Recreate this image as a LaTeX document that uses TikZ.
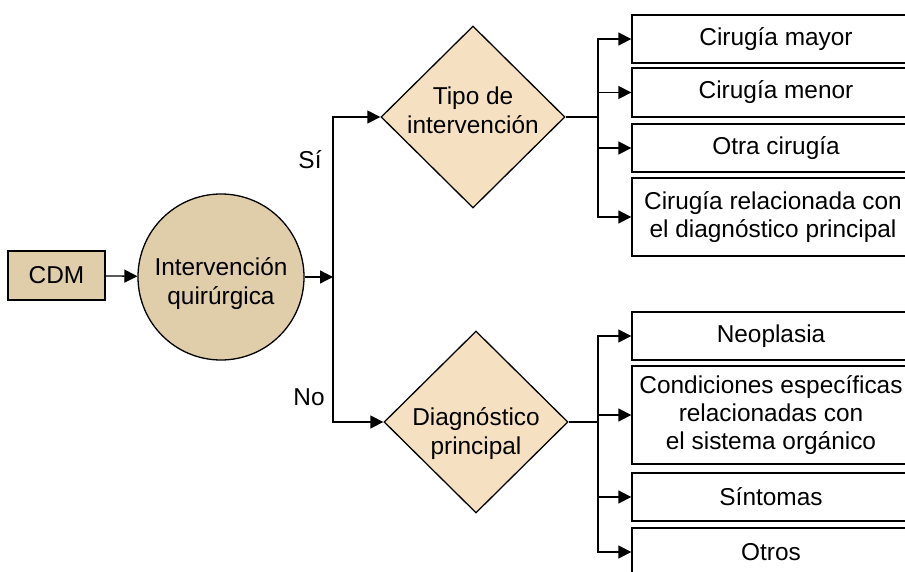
\documentclass[tikz,border=0pt]{standalone}
\usepackage{fontspec}
\setmainfont{Liberation Sans}
\usetikzlibrary{shapes.geometric,arrows.meta}
\definecolor{cdmtan}{HTML}{E0CDAA}
\definecolor{diamtan}{HTML}{F5E1C2}
\begin{document}
\begin{tikzpicture}[x=1pt, y=-1pt, line width=1.3pt, font=\fontsize{24.4}{28}\selectfont, >={Triangle[length=13pt,width=13pt]}]
    \tikzstyle{box} = [draw, minimum height=48pt, align=center, inner sep=0pt];
    \tikzstyle{decision} = [draw, diamond, fill=diamtan, minimum width=184pt, minimum height=182pt, inner sep=0pt];
    \tikzstyle{inside} = [align=center, font=\fontsize{24.4}{29}\selectfont];
    \useasboundingbox (0,0) rectangle (905,572);
    \clip (0,0) rectangle (905,572);

    \node[draw, fill=cdmtan, minimum width=97pt, minimum height=49pt] (CDM) at (56.5,275.5) {CDM};
    \node[draw, circle, fill=cdmtan, minimum size=166pt, inner sep=0pt] (quir) at (221,277) {};
    \node[inside] (quirtext) at (221,284) {Intervención\\quirúrgica};
    \coordinate (split) at (333,277);
    \node[decision] (tipo) at (473,117) {};
    \node[inside] (tipotext) at (473,110) {Tipo de\\intervención};
    \node[decision] (diag) at (476,422) {};
    \node[inside] (diagtext) at (476,433.5) {Diagnóstico\\principal};
    \node (si) at (310,160) {Sí};
    \node (no) at (309,397) {No};

    % tipo de intervencion
    \node[box, minimum width=288pt] (mayor) at (776,39) {Cirugía mayor};
    \node[box, minimum width=288pt, minimum height=49pt] (menor) at (776,92.5) {Cirugía menor};
    \node[box, minimum width=288pt] (otra) at (776,148) {Otra cirugía};
    \node[box, minimum width=282pt, minimum height=78pt] (rel) at (773,217) {Cirugía relacionada con\\el diagnóstico principal};
    % diagnostico principal
    \node[box, minimum width=278pt] (neo) at (771,336) {Neoplasia};
    \node[box, minimum width=278pt, minimum height=98pt] (cond) at (771,415) {Condiciones específicas\\relacionadas con\\el sistema orgánico};
    \node[box, minimum width=278pt] (sint) at (771,497) {Síntomas};
    \node[box, minimum width=278pt, minimum height=48pt] (otros) at (771,552) {Otros};

    \coordinate (tjoin) at (598,117);
    \coordinate (djoin) at (598,422);

    \draw[->] (CDM) -- (quir);
    \draw[->] (quir) -- (split);
    \draw[->] (split) |- (tipo.west);
    \draw[->] (split) |- (diag.west);
    \draw (tipo.east) -- (tjoin);
    \draw[->] (tjoin) |- (mayor.west);
    \draw[->] (tjoin) |- (menor.west);
    \draw[->] (tjoin) |- (otra.west);
    \draw[->] (tjoin) |- (rel.west);
    \draw (diag.east) -- (djoin);
    \draw[->] (djoin) |- (neo.west);
    \draw[->] (djoin) |- (cond.west);
    \draw[->] (djoin) |- (sint.west);
    \draw[->] (djoin) |- (otros.west);
\end{tikzpicture}
\end{document}
